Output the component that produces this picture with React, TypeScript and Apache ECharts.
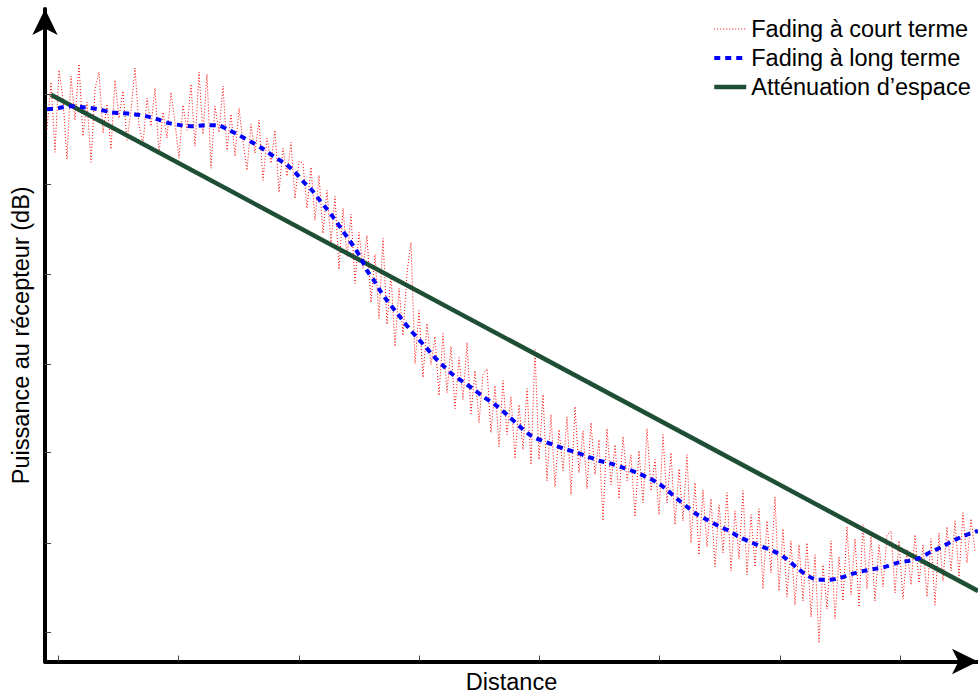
import React, { useEffect, useRef } from "react";
import * as echarts from "echarts";

// Distance axis: sample index (one sample every step); power in dB
const distanceTicks = [2.9, 32.9, 63.0, 93.0, 123.1, 153.1, 183.2, 213.2];
const powerTicks = [0, -9, -18, -27, -35.8, -44.8, -53.7];

// Short-term (fast) fading, one value per sample index 0..232
const shortTermPower = [
  -3.5, 1.2, -5.8, 2.4, -0.5, -6.5, 1.8, -2.6, 3.0, -4.2, -0.8, -6.8, 0.5, 2.2, -3.9, -1.0, -5.5, 1.4, -2.4, 0.3,
  -4.6, -1.6, 2.6, -3.1, -5.0, -0.4, -3.2, 0.6, -6.0, -1.8, -4.4, 0.2, -2.9, -6.4, -1.1, -3.6, 1.0, -5.2, 2.2, -4.0,
  2.0, -7.4, -1.2, -3.8, 0.8, -5.6, -2.0, -6.2, -1.4, -4.8, -7.6, -3.0, -5.9, -2.6, -8.6, -4.4, -6.9, -3.6, -9.8, -5.4,
  -8.2, -4.8, -10.4, -6.7, -6.9, -11.4, -7.3, -12.6, -8.1, -13.9, -9.6, -14.8, -10.2, -17.5, -11.4, -16.2, -12.0, -18.9, -13.8, -17.4,
  -14.1, -20.8, -16.0, -22.4, -14.4, -23.0, -18.0, -25.2, -19.4, -24.1, -17.8, -14.8, -26.9, -21.6, -28.3, -22.9, -27.0, -24.2, -30.1, -23.9,
  -29.8, -25.2, -31.4, -26.3, -30.5, -24.8, -31.9, -27.6, -32.8, -28.0, -27.4, -33.8, -29.1, -35.2, -28.6, -34.0, -30.2, -36.4, -31.0, -35.5,
  -29.4, -37.0, -25.5, -36.5, -30.0, -38.6, -32.0, -39.2, -33.5, -37.6, -32.2, -40.0, -31.2, -37.8, -33.6, -39.4, -32.8, -38.0, -34.5, -42.6,
  -33.4, -39.0, -35.0, -40.4, -34.2, -38.6, -36.0, -42.2, -35.6, -40.8, -33.4, -39.6, -36.5, -42.0, -34.0, -40.8, -35.8, -43.0, -37.4, -42.6,
  -36.0, -44.8, -38.8, -46.0, -39.5, -45.2, -40.4, -47.2, -41.0, -45.8, -39.8, -47.6, -41.6, -46.4, -39.6, -48.0, -42.0, -47.2, -41.4, -49.4,
  -42.6, -47.8, -40.2, -49.6, -43.4, -50.2, -44.6, -51.0, -45.0, -50.6, -44.8, -52.2, -46.0, -54.8, -47.0, -51.4, -44.6, -52.4, -46.2, -50.6,
  -43.2, -50.0, -44.4, -51.2, -43.0, -49.4, -44.2, -50.6, -45.0, -49.2, -44.0, -43.6, -49.8, -44.6, -50.4, -45.4, -49.0, -44.0, -48.8, -45.0,
  -50.2, -44.4, -51.0, -43.8, -48.6, -43.2, -47.6, -42.6, -48.2, -41.8, -46.8, -42.4, -45.6
];

// Long-term (slow) fading
const longTermDistance = [
  0, 2.75, 5.75, 9, 12.75, 15.75, 18.75, 21.75, 24.75, 27.5, 30.5, 33.5, 36.5, 39.5, 42.5, 45.5, 48, 50.75, 53.75, 57,
  59.75, 62, 64, 66.25, 68, 70, 71.75, 73.5, 75.25, 77, 78.5, 80, 81.75, 83.25, 85, 87, 88.75, 90.75, 92.75, 94.75,
  96.75, 99, 101.75, 104.25, 106.75, 109, 112, 115.25, 118.25, 121, 123.75, 126.5, 129.25, 132.5, 135.25, 138, 141, 144, 147.5, 150.25,
  153, 155.25, 157.5, 160, 162.25, 165, 167.75, 170.5, 173, 175.75, 178.75, 181.5, 184.5, 187.5, 190.25, 192.75, 195.25, 198.25, 201.25, 204.25,
  207, 209.5, 212.5, 215.5, 218.25, 221, 223.75, 226.5, 229.25, 232, 232.75
];
const longTermPower = [
  -1.5, -1.4, -1.2, -1.3, -1.5, -1.8, -1.9, -2.0, -2.2, -2.5, -2.9, -3.1, -3.2, -3.1, -3.1, -3.6, -4.1, -4.7, -5.4, -6.3,
  -7.0, -7.8, -8.7, -9.6, -10.5, -11.5, -12.4, -13.4, -14.4, -15.4, -16.4, -17.6, -18.6, -19.6, -20.6, -21.6, -22.5, -23.5, -24.4, -25.3,
  -26.2, -27.1, -28.1, -28.8, -29.5, -30.2, -31.0, -32.1, -33.2, -34.1, -34.6, -35.0, -35.4, -35.8, -36.2, -36.6, -36.9, -37.3, -37.8, -38.3,
  -38.9, -39.6, -40.4, -41.2, -41.9, -42.5, -43.1, -43.6, -44.2, -44.7, -45.2, -45.6, -46.3, -47.3, -48.1, -48.5, -48.5, -48.3, -47.9, -47.6,
  -47.4, -47.2, -46.8, -46.6, -46.3, -45.7, -45.2, -44.6, -44.1, -43.7, -43.6
];

// Path loss (straight line)
const pathLossDistance = [1, 232.75];
const pathLossPower = [-0.07, -49.6];

const seriesNames = ["Fading à court terme", "Fading à long terme", "Atténuation d’espace"];

const FONT = "'Liberation Sans', Arial, Helvetica, sans-serif";

export default function App() {
  const ref = useRef<HTMLDivElement>(null);
  useEffect(() => {
    if (!ref.current) return;
    const chart = echarts.init(ref.current, null, { renderer: "svg" });
    const axisCommon = {
      splitLine: { show: false },
      axisLabel: { show: false },
      nameLocation: "middle" as const,
      nameTextStyle: { color: "#000", fontSize: 23.5, fontFamily: FONT },
    };
    const arrowLine = {
      show: true,
      onZero: false,
      lineStyle: { color: "#000", width: 4 },
      symbol: ["none", "arrow"],
      symbolSize: [19, 26],
      symbolOffset: [0, 0],
    };
    chart.setOption({
      animation: false,
      backgroundColor: "#fff",
      textStyle: { fontFamily: FONT },
      grid: { left: 45, right: 0, top: 9, bottom: 33.5, containLabel: false, outerBoundsMode: "none" },
      legend: {
        orient: "vertical",
        left: 712,
        top: 17,
        padding: 0,
        itemWidth: 32,
        itemHeight: 14,
        itemGap: 5,
        data: seriesNames,
        itemStyle: { opacity: 0 },
        lineStyle: { width: "inherit" },
        textStyle: { color: "#000", fontSize: 23.5, fontFamily: FONT, lineHeight: 24 },
      },
      xAxis: {
        ...axisCommon,
        type: "value",
        name: "Distance",
        nameGap: 8,
        min: -0.5,
        max: 232.75,
        axisLine: arrowLine,
        axisTick: {
          show: true,
          inside: true,
          length: 6,
          customValues: distanceTicks,
          lineStyle: { color: "#444", width: 1 },
        },
      },
      yAxis: {
        ...axisCommon,
        type: "value",
        name: "Puissance au récepteur (dB)",
        nameGap: 12,
        min: -56.65,
        max: 8.5,
        axisLine: arrowLine,
        axisTick: {
          show: true,
          inside: true,
          length: 6,
          customValues: powerTicks,
          lineStyle: { color: "#444", width: 1 },
        },
      },
      series: [
        {
          name: seriesNames[0],
          type: "line",
          z: 2,
          symbol: "none",
          data: shortTermPower.map((v, i) => [i, v]),
          lineStyle: { color: "#ff0000", width: 1, type: [1, 2] },
          itemStyle: { color: "#ff0000", opacity: 0 },
        },
        {
          name: seriesNames[1],
          type: "line",
          z: 4,
          symbol: "none",
          smooth: 0.3,
          data: longTermDistance.map((d, i) => [d, longTermPower[i]]),
          lineStyle: { color: "#0000ff", width: 4, type: [6, 5] },
          itemStyle: { color: "#0000ff", opacity: 0 },
        },
        {
          name: seriesNames[2],
          type: "line",
          z: 3,
          symbol: "none",
          data: pathLossDistance.map((d, i) => [d, pathLossPower[i]]),
          lineStyle: { color: "#1e4f35", width: 4.5 },
          itemStyle: { color: "#1e4f35", opacity: 0 },
        },
      ],
    });
    return () => chart.dispose();
  }, []);
  return (
    <div
      ref={ref}
      style={{ position: "fixed", left: 0, top: 0, width: 978, height: 695, background: "#fff" }}
    />
  );
}
